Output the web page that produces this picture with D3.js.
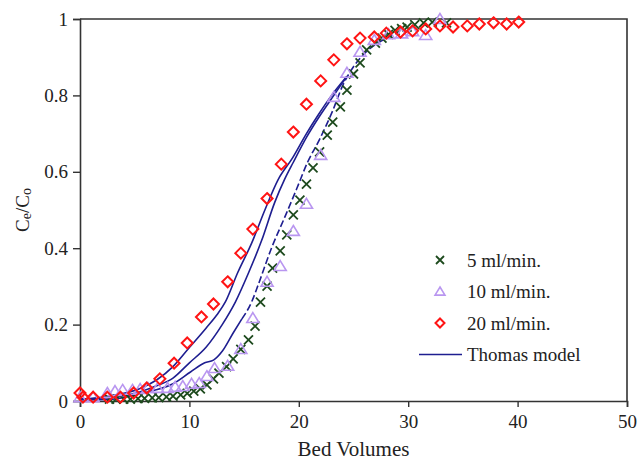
<!DOCTYPE html>
<html>
<head>
<meta charset="utf-8">
<script src="https://cdn.jsdelivr.net/npm/d3@7"></script>
<style>
  body { margin: 0; background: #fff; }
  svg text { font-family: "Liberation Serif", "Times New Roman", serif; fill: #222; }
</style>
</head>
<body>
<svg id="chart" width="637" height="460"></svg>
<script>
// data: [bed volumes, Ce/Co]
const flow5 = [
  [2.7,0.005],[3.3,0.005],[4.0,0.005],[4.6,0.005],[5.3,0.006],[5.9,0.007],[6.6,0.008],[7.2,0.009],
  [7.9,0.011],[8.5,0.013],[9.2,0.016],[9.8,0.02],[10.4,0.026],[11.0,0.032],[11.6,0.042],[12.2,0.058],
  [12.7,0.073],[13.4,0.09],[14.0,0.11],[14.7,0.135],[15.4,0.16],[16.0,0.196],[16.5,0.259],[17.1,0.301],
  [17.6,0.348],[18.3,0.393],[18.9,0.435],[19.5,0.487],[20.1,0.526],[20.7,0.568],[21.3,0.61],[21.9,0.652],
  [22.6,0.696],[23.1,0.73],[23.8,0.77],[24.4,0.814],[25.0,0.856],[25.6,0.885],[26.2,0.919],[27.0,0.937],
  [27.6,0.95],[28.2,0.96],[28.8,0.97],[29.4,0.975],[29.9,0.979],[30.6,0.985],[31.4,0.99],[32.2,0.992],[33.5,0.99]
];
const flow10 = [
  [0,0.01],[1.2,0.01],[2.5,0.021],[3.2,0.026],[3.9,0.029],[4.8,0.029],[5.5,0.031],[6.2,0.034],[7.1,0.034],
  [8.0,0.034],[8.7,0.037],[9.4,0.039],[10.2,0.045],[10.9,0.047],[11.6,0.065],[12.3,0.086],[13.5,0.092],
  [14.7,0.136],[15.8,0.217],[17.1,0.312],[18.3,0.353],[19.5,0.445],[20.7,0.516],[22.0,0.644],[23.2,0.796],
  [24.4,0.859],[25.6,0.914],[26.9,0.945],[28.2,0.96],[29.4,0.962],[30.4,0.968],[31.6,0.958],[32.9,1.0]
];
const flow20 = [
  [0,0.021],[0.27,0.01],[1.2,0.01],[2.5,0.01],[3.7,0.01],[4.9,0.021],[6.1,0.034],[7.3,0.058],[8.6,0.099],
  [9.8,0.152],[11.1,0.22],[12.2,0.254],[13.5,0.312],[14.7,0.387],[15.8,0.45],[17.1,0.53],[18.4,0.62],
  [19.5,0.704],[20.7,0.777],[22.0,0.838],[23.2,0.893],[24.4,0.935],[25.6,0.95],[26.9,0.953],[28.0,0.963],
  [29.3,0.966],[30.4,0.969],[31.6,0.974],[32.9,0.982],[34.1,0.979],[35.4,0.982],[36.5,0.987],[37.8,0.99],
  [39.0,0.987],[40.1,0.992]
];
// Thomas model curves
const model20 = [
  [0,0.005],[2,0.01],[4,0.02],[5.5,0.033],[7,0.055],[8.5,0.09],[10,0.14],[11.5,0.19],[12.5,0.225],
  [13.3,0.26],[14.4,0.335],[15.7,0.414],[16.9,0.5],[18.1,0.579],[19.4,0.635],[20.7,0.7],[21.8,0.75],
  [23,0.8],[24.4,0.85]
];
const model10 = [
  [0,0.005],[3,0.01],[5,0.02],[7,0.04],[8.5,0.06],[10,0.1],[11.5,0.14],[13,0.2],[14.2,0.259],[15.4,0.335],
  [16.6,0.42],[17.8,0.52],[18.7,0.58],[19.5,0.625],[20.7,0.69],[22,0.75],[23.2,0.8],[24.4,0.85]
];
const model5 = [
  [0,0.003],[3,0.005],[5.5,0.02],[8.5,0.045],[10.1,0.076],[11.4,0.1],[12.2,0.107],[13,0.13],[14,0.178],
  [14.8,0.215],[15.7,0.26],[16.3,0.305],[17.5,0.4],[18.7,0.48],[19.8,0.555],[20.8,0.625],[21.9,0.685],
  [23.1,0.76],[24,0.825],[25,0.875],[26.2,0.915],[27.7,0.945],[29,0.963]
];
const model5DashFrom = 14.8;

const xTicks = [0, 10, 20, 30, 40, 50];
const yTicks = [0, 0.2, 0.4, 0.6, 0.8, 1];
const legendItems = ["5 ml/min.", "10 ml/min.", "20 ml/min.", "Thomas model"];

const width = 637, height = 460;
const margin = { top: 19, right: 10, bottom: 59, left: 80 };

const colors = { x: "#1d4a1d", tri: "#b996f0", dia: "#ff1414", line: "#1e1e90", axis: "#333" };

const svg = d3.select("#chart");

const xScale = d3.scaleLinear().domain([0, 50]).range([margin.left, width - margin.right]);
const yScale = d3.scaleLinear().domain([0, 1]).range([height - margin.bottom, margin.top]);

// FRAME (top + right)
svg.append("path")
  .attr("d", `M${xScale(0)},${yScale(1)}H${xScale(50)}V${yScale(0)}`)
  .attr("fill", "none")
  .attr("stroke", colors.axis)
  .attr("stroke-width", 1.6);

// AXES
const xAxis = svg.append("g")
  .attr("transform", `translate(0, ${yScale(0)})`)
  .call(d3.axisBottom(xScale).tickValues(xTicks).tickSizeOuter(0).tickSize(6).tickPadding(8).tickFormat(d3.format("d")));

const yAxis = svg.append("g")
  .attr("transform", `translate(${xScale(0)}, 0)`)
  .call(d3.axisLeft(yScale).tickValues(yTicks).tickSizeOuter(0).tickSize(7).tickPadding(5).tickFormat(d => String(d)));

[xAxis, yAxis].forEach(g => {
  g.select(".domain").attr("stroke", colors.axis).attr("stroke-width", 1.6);
  g.selectAll(".tick line").attr("stroke", colors.axis).attr("stroke-width", 1.4);
  g.selectAll(".tick text").attr("font-size", 19).attr("fill", "#222")
    .style("font-family", "'Liberation Serif', serif");
});

// AXIS LABELS
svg.append("text")
  .attr("x", (xScale(0) + xScale(50)) / 2)
  .attr("y", 456)
  .attr("text-anchor", "middle")
  .attr("font-size", 21)
  .text("Bed Volumes");

const yLabel = svg.append("text")
  .attr("transform", `translate(29, ${(yScale(0) + yScale(1)) / 2}) rotate(-90)`)
  .attr("text-anchor", "middle")
  .attr("font-size", 19);
yLabel.append("tspan").text("C");
yLabel.append("tspan").attr("font-size", 14).attr("dy", 2).text("e");
yLabel.append("tspan").attr("dy", -2).text("/C");
yLabel.append("tspan").attr("font-size", 14).attr("dy", 2).text("o");

// MODEL LINES
const line = d3.line().x(d => xScale(d[0])).y(d => yScale(d[1])).curve(d3.curveMonotoneX);

svg.selectAll("path.model")
  .data([model20, model10, model5.filter(d => d[0] <= model5DashFrom)])
  .join("path")
  .attr("class", "model")
  .attr("d", line)
  .attr("fill", "none")
  .attr("stroke", colors.line)
  .attr("stroke-width", 1.6);

svg.append("path")
  .datum(model5.filter(d => d[0] >= model5DashFrom))
  .attr("d", line)
  .attr("fill", "none")
  .attr("stroke", colors.line)
  .attr("stroke-width", 1.6)
  .attr("stroke-dasharray", "7,3");

// MARKERS
const crossPath = s => `M${-s},${-s}L${s},${s}M${-s},${s}L${s},${-s}`;
const triPath = s => `M0,${-s}L${s * 1.1},${s * 0.8}L${-s * 1.1},${s * 0.8}Z`;
const diaPath = s => `M0,${-s}L${s},0L0,${s}L${-s},0Z`;

svg.selectAll("path.x5")
  .data(flow5)
  .join("path")
  .attr("class", "x5")
  .attr("transform", d => `translate(${xScale(d[0])},${yScale(d[1])})`)
  .attr("d", crossPath(4.5))
  .attr("fill", "none")
  .attr("stroke", colors.x)
  .attr("stroke-width", 1.8);

svg.selectAll("path.t10")
  .data(flow10)
  .join("path")
  .attr("class", "t10")
  .attr("transform", d => `translate(${xScale(d[0])},${yScale(d[1])})`)
  .attr("d", triPath(5.5))
  .attr("fill", "none")
  .attr("stroke", colors.tri)
  .attr("stroke-width", 1.6);

svg.selectAll("path.d20")
  .data(flow20)
  .join("path")
  .attr("class", "d20")
  .attr("transform", d => `translate(${xScale(d[0])},${yScale(d[1])})`)
  .attr("d", diaPath(5.5))
  .attr("fill", "none")
  .attr("stroke", colors.dia)
  .attr("stroke-width", 2);

// LEGEND
const legend = svg.append("g").attr("transform", "translate(440, 260)");
const rowGap = 31.5;
legendItems.forEach((name, i) => {
  const row = legend.append("g").attr("transform", `translate(0, ${i * rowGap})`);
  if (i === 0) row.append("path").attr("d", crossPath(4)).attr("stroke", colors.x).attr("stroke-width", 1.8).attr("fill", "none");
  if (i === 1) row.append("path").attr("d", triPath(4.5)).attr("stroke", colors.tri).attr("stroke-width", 1.6).attr("fill", "none");
  if (i === 2) row.append("path").attr("d", diaPath(4.5)).attr("stroke", colors.dia).attr("stroke-width", 2).attr("fill", "none");
  if (i === 3) row.append("line").attr("x1", -21).attr("x2", 22).attr("stroke", colors.line).attr("stroke-width", 1.6);
  row.append("text")
    .attr("x", 27)
    .attr("dy", "0.35em")
    .attr("font-size", 19)
    .text(name);
});
</script>
</body>
</html>
